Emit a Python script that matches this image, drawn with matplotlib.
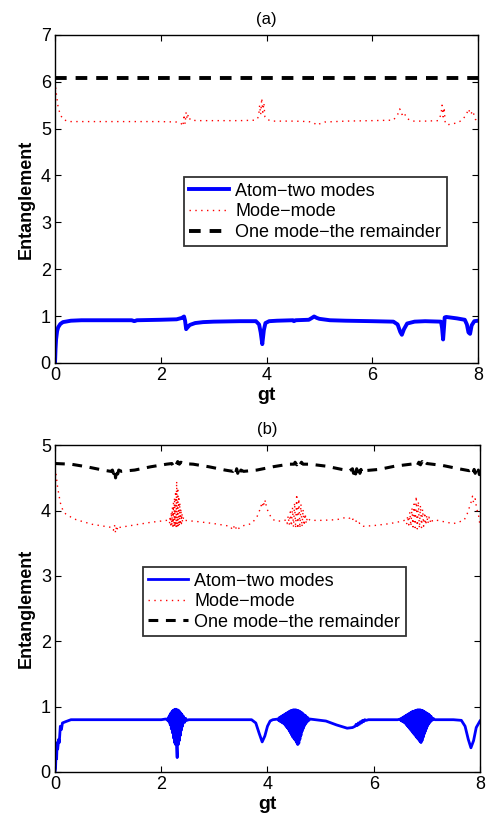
import matplotlib
matplotlib.use("Agg")
import matplotlib.pyplot as plt

plt.rcParams['font.family'] = ['Liberation Sans', 'DejaVu Sans']

# ---------------- Panel (a) data ----------------
a_atom_t = [0.0, 0.01, 0.02, 0.04, 0.06, 0.1, 0.15, 0.2, 0.3, 0.5, 1.0, 1.45, 1.5, 1.55, 2.0, 2.3, 2.4,
            2.44, 2.46, 2.48, 2.5, 2.55, 2.65, 2.8, 3.0, 3.5, 3.8, 3.86, 3.89, 3.92, 3.95, 3.98, 4.05, 4.2,
            4.5, 4.52, 4.55, 4.8, 4.86, 4.9, 4.95, 5.0, 5.2, 5.5, 6.0, 6.4, 6.48, 6.53, 6.56, 6.6, 6.66,
            6.8, 7.0, 7.3, 7.32, 7.34, 7.36, 7.37, 7.4, 7.6, 7.75, 7.79, 7.82, 7.85, 7.88, 7.93, 8.0]
a_atom_y = [0.0, 0.3, 0.5, 0.68, 0.76, 0.83, 0.87, 0.88, 0.9, 0.91, 0.91, 0.91, 0.89, 0.91, 0.92, 0.93, 0.96,
            0.99, 0.9, 0.72, 0.75, 0.81, 0.85, 0.87, 0.88, 0.89, 0.89, 0.82, 0.65, 0.4, 0.7, 0.85, 0.89, 0.9,
            0.91, 0.89, 0.91, 0.92, 0.96, 0.99, 0.96, 0.94, 0.91, 0.9, 0.89, 0.88, 0.82, 0.66, 0.6, 0.72, 0.84,
            0.88, 0.89, 0.88, 0.75, 0.5, 0.8, 0.97, 0.98, 0.95, 0.92, 0.82, 0.65, 0.62, 0.8, 0.89, 0.9]

a_mode_t = [0.0, 0.03, 0.06, 0.1, 0.15, 0.25, 0.5, 1.0, 1.5, 2.0, 2.3, 2.38, 2.42, 2.44, 2.46, 2.48, 2.5,
            2.52, 2.56, 2.7, 3.0, 3.5, 3.8, 3.85, 3.87, 3.89, 3.91, 3.93, 3.95, 3.97, 4.0, 4.1, 4.5, 4.8,
            4.9, 4.95, 5.0, 5.1, 5.5, 6.0, 6.4, 6.48, 6.52, 6.56, 6.6, 6.65, 6.75, 7.0, 7.25, 7.3, 7.32,
            7.34, 7.36, 7.38, 7.42, 7.5, 7.6, 7.7, 7.78, 7.82, 7.86, 7.9, 7.95, 8.0]
a_mode_y = [6.0, 5.7, 5.45, 5.3, 5.2, 5.15, 5.15, 5.15, 5.15, 5.15, 5.14, 5.12, 5.05, 5.3, 5.1, 5.35, 5.2,
            5.3, 5.18, 5.17, 5.17, 5.17, 5.18, 5.25, 5.5, 5.3, 5.65, 5.35, 5.55, 5.25, 5.2, 5.16, 5.16, 5.15,
            5.12, 5.07, 5.1, 5.14, 5.16, 5.17, 5.18, 5.3, 5.42, 5.3, 5.35, 5.22, 5.16, 5.16, 5.17, 5.3, 5.5,
            5.25, 5.45, 5.12, 5.08, 5.1, 5.12, 5.18, 5.3, 5.42, 5.3, 5.38, 5.2, 5.15]

a_rem_t = [0.0, 8.0]
a_rem_y = [6.08, 6.08]

# ---------------- Panel (b) data ----------------
b_atom_t = [0.0, 0.01, 0.02, 0.03, 0.04, 0.05, 0.07, 0.08, 0.1, 0.12, 0.14, 0.2, 0.3, 1.0, 1.5, 2.0, 2.08,
            2.10, 2.12, 2.14, 2.15, 2.16, 2.17, 2.18, 2.19, 2.20, 2.21, 2.22, 2.23, 2.24, 2.25, 2.26, 2.27,
            2.28, 2.29, 2.30, 2.31, 2.32, 2.33, 2.34, 2.35, 2.36, 2.37, 2.38, 2.39, 2.40, 2.42, 2.44, 2.46,
            2.48, 2.52, 3.0, 3.5, 3.7, 3.78, 3.84, 3.9, 3.95, 4.0, 4.05, 4.1,
            4.20, 4.21, 4.22, 4.23, 4.24, 4.25, 4.26, 4.27, 4.28, 4.29, 4.30, 4.31, 4.32, 4.33, 4.34, 4.35,
            4.36, 4.37, 4.38, 4.39, 4.40, 4.41, 4.42, 4.43, 4.44, 4.45, 4.46, 4.47, 4.48, 4.49, 4.50, 4.51,
            4.52, 4.53, 4.54, 4.55, 4.56, 4.57, 4.58, 4.59, 4.60, 4.61, 4.62, 4.63, 4.64, 4.65, 4.66, 4.67,
            4.68, 4.69, 4.70, 4.71, 4.72, 4.73, 4.74, 4.75, 4.76, 4.78, 4.80,
            4.9, 5.1, 5.3, 5.5, 5.6, 5.65, 5.67, 5.69, 5.71, 5.73, 5.75, 5.77, 5.79, 5.81, 5.83, 5.86, 5.9,
            6.2, 6.45,
            6.50, 6.51, 6.52, 6.53, 6.54, 6.55, 6.56, 6.57, 6.58, 6.59, 6.60, 6.61, 6.62, 6.63, 6.64, 6.65,
            6.66, 6.67, 6.68, 6.69, 6.70, 6.71, 6.72, 6.73, 6.74, 6.75, 6.76, 6.77, 6.78, 6.79, 6.80, 6.81,
            6.82, 6.83, 6.84, 6.85, 6.86, 6.87, 6.88, 6.89, 6.90, 6.91, 6.92, 6.93, 6.94, 6.95, 6.96, 6.97,
            6.98, 6.99, 7.00, 7.01, 7.02, 7.03, 7.04, 7.05, 7.06, 7.07, 7.08, 7.10, 7.12, 7.15,
            7.5, 7.65, 7.72, 7.78, 7.83, 7.88, 7.93, 8.0]
b_atom_y = [0.0, 0.05, 0.3, 0.2, 0.45, 0.35, 0.5, 0.45, 0.7, 0.65, 0.75, 0.77, 0.8, 0.8, 0.8, 0.8, 0.81,
            0.81, 0.79, 0.84, 0.76, 0.87, 0.72, 0.90, 0.66, 0.92, 0.60, 0.94, 0.52, 0.95, 0.45, 0.96, 0.42,
            0.96, 0.40, 0.22, 0.95, 0.42, 0.94, 0.48, 0.92, 0.56, 0.90, 0.64, 0.88, 0.70, 0.85, 0.76, 0.82,
            0.79, 0.80, 0.80, 0.80, 0.80, 0.75, 0.6, 0.46, 0.55, 0.7, 0.78, 0.8,
            0.81, 0.79, 0.83, 0.78, 0.84, 0.77, 0.85, 0.76, 0.86, 0.75, 0.87, 0.74, 0.88, 0.72, 0.89, 0.70,
            0.90, 0.68, 0.91, 0.66, 0.92, 0.63, 0.93, 0.60, 0.94, 0.57, 0.94, 0.54, 0.95, 0.52, 0.95, 0.50,
            0.95, 0.48, 0.95, 0.45, 0.94, 0.42, 0.94, 0.44, 0.93, 0.50, 0.92, 0.56, 0.91, 0.62, 0.90, 0.66,
            0.88, 0.70, 0.87, 0.73, 0.86, 0.75, 0.84, 0.77, 0.83, 0.79, 0.81,
            0.8, 0.78, 0.72, 0.67, 0.68, 0.70, 0.73, 0.71, 0.75, 0.73, 0.77, 0.75, 0.79, 0.77, 0.80, 0.79, 0.80,
            0.80, 0.80,
            0.81, 0.79, 0.82, 0.78, 0.83, 0.77, 0.84, 0.76, 0.85, 0.75, 0.86, 0.73, 0.87, 0.71, 0.88, 0.69,
            0.89, 0.67, 0.90, 0.65, 0.91, 0.63, 0.92, 0.61, 0.93, 0.59, 0.93, 0.57, 0.94, 0.55, 0.94, 0.53,
            0.95, 0.51, 0.95, 0.49, 0.95, 0.47, 0.95, 0.45, 0.94, 0.48, 0.94, 0.53, 0.93, 0.58, 0.92, 0.62,
            0.91, 0.66, 0.90, 0.70, 0.89, 0.73, 0.88, 0.75, 0.86, 0.77, 0.85, 0.79, 0.82, 0.80,
            0.80, 0.79, 0.7, 0.5, 0.37, 0.48, 0.68, 0.78]

b_mode_t = [0.0, 0.02, 0.05, 0.1, 0.15, 0.2, 0.3, 0.4, 0.7, 1.0, 1.08, 1.10, 1.12, 1.14, 1.16, 1.18, 1.2,
            1.5, 1.8, 2.1,
            2.15, 2.16, 2.17, 2.18, 2.19, 2.20, 2.21, 2.22, 2.23, 2.24, 2.25, 2.26, 2.27, 2.28, 2.29, 2.30,
            2.31, 2.32, 2.33, 2.34, 2.35, 2.36, 2.37, 2.38, 2.39, 2.40, 2.42, 2.45,
            2.7, 3.0, 3.3, 3.33, 3.36, 3.39, 3.42, 3.45, 3.5, 3.7, 3.8, 3.85, 3.88, 3.9, 3.92, 3.94, 3.96,
            3.98, 4.02, 4.08, 4.15, 4.3,
            4.35, 4.37, 4.39, 4.41, 4.43, 4.45, 4.47, 4.49, 4.51, 4.53, 4.55, 4.57, 4.59, 4.61, 4.63, 4.65,
            4.67, 4.69, 4.71, 4.73, 4.75, 4.8,
            5.0, 5.3, 5.5, 5.55, 5.58, 5.61, 5.64, 5.67, 5.7, 5.73, 5.76, 5.8, 6.0, 6.3, 6.55,
            6.60, 6.62, 6.64, 6.66, 6.68, 6.70, 6.72, 6.74, 6.76, 6.78, 6.80, 6.82, 6.84, 6.86, 6.88, 6.90,
            6.92, 6.94, 6.96, 6.98, 7.00, 7.02, 7.04, 7.06, 7.08, 7.10, 7.13, 7.2,
            7.5, 7.7, 7.76, 7.8, 7.83, 7.86, 7.88, 7.91, 7.94, 7.97, 8.0]
b_mode_y = [4.65, 4.55, 4.35, 4.12, 4.0, 3.95, 3.9, 3.86, 3.79, 3.75, 3.74, 3.70, 3.78, 3.66, 3.77, 3.70, 3.74,
            3.78, 3.82, 3.85,
            3.86, 3.80, 3.92, 3.78, 3.98, 3.77, 4.05, 3.76, 4.12, 3.75, 4.20, 3.75, 4.30, 3.74, 4.45, 3.74,
            4.35, 3.75, 4.22, 3.76, 4.12, 3.78, 4.03, 3.80, 3.96, 3.82, 3.90, 3.85,
            3.83, 3.8, 3.76, 3.72, 3.77, 3.70, 3.76, 3.72, 3.76, 3.8, 3.9, 4.0, 4.08, 4.04, 4.14, 4.08, 4.16,
            4.05, 3.97, 3.88, 3.84, 3.84,
            3.86, 3.80, 3.92, 3.78, 3.98, 3.76, 4.05, 3.75, 4.12, 3.73, 4.25, 3.72, 4.18, 3.73, 4.10, 3.75,
            4.02, 3.77, 3.95, 3.80, 3.90, 3.85,
            3.85, 3.86, 3.9, 3.88, 3.84, 3.87, 3.82, 3.84, 3.79, 3.81, 3.77, 3.76, 3.77, 3.8, 3.84,
            3.86, 3.80, 3.92, 3.78, 3.98, 3.76, 4.04, 3.75, 4.10, 3.74, 4.22, 3.72, 4.14, 3.73, 4.08, 3.74,
            4.02, 3.76, 3.97, 3.78, 3.93, 3.80, 3.90, 3.82, 3.88, 3.84, 3.86, 3.85,
            3.8, 3.85, 3.95, 4.05, 4.12, 4.22, 4.12, 4.18, 4.02, 3.95, 3.78]

b_rem_t = [0.0, 0.3, 0.6, 0.9, 1.05, 1.08, 1.1, 1.12, 1.14, 1.16, 1.18, 1.2, 1.25, 1.5, 1.8, 2.1, 2.2,
           2.22, 2.25, 2.28, 2.31, 2.34, 2.37, 2.4, 2.6, 2.9, 3.2, 3.35, 3.38, 3.4, 3.42, 3.44, 3.46, 3.48,
           3.5, 3.55, 3.8, 4.1, 4.4, 4.5, 4.52, 4.55, 4.58, 4.61, 4.64, 4.67, 4.8, 5.1, 5.4, 5.55, 5.6,
           5.62, 5.64, 5.66, 5.68, 5.7, 5.72, 5.74, 5.76, 5.78, 5.82, 6.1, 6.4, 6.7, 6.8, 6.82, 6.85, 6.88,
           6.91, 6.94, 6.97, 7.0, 7.3, 7.6, 7.8, 7.85, 7.87, 7.89, 7.91, 7.93, 7.95, 7.97, 7.99, 8.0]
b_rem_y = [4.72, 4.71, 4.67, 4.62, 4.60, 4.62, 4.57, 4.63, 4.50, 4.64, 4.56, 4.62, 4.60, 4.62, 4.67, 4.71,
           4.72, 4.69, 4.74, 4.70, 4.75, 4.71, 4.74, 4.72, 4.71, 4.67, 4.62, 4.60, 4.63, 4.57, 4.64, 4.57,
           4.64, 4.58, 4.62, 4.60, 4.62, 4.67, 4.71, 4.71, 4.74, 4.70, 4.75, 4.70, 4.74, 4.71, 4.71, 4.68,
           4.63, 4.61, 4.64, 4.57, 4.64, 4.56, 4.64, 4.55, 4.63, 4.57, 4.63, 4.58, 4.61, 4.63, 4.68, 4.71,
           4.72, 4.69, 4.74, 4.70, 4.75, 4.70, 4.74, 4.72, 4.69, 4.64, 4.61, 4.63, 4.57, 4.63, 4.57, 4.62,
           4.56, 4.62, 4.55, 4.60]

labels = ['Atom\u2212two modes', 'Mode\u2212mode', 'One mode\u2212the remainder']
x_ticks = [0, 2, 4, 6, 8]

fig = plt.figure(figsize=(4.89, 8.21), dpi=100)
ax1 = fig.add_axes([0.1125, 0.558, 0.865, 0.3995])
ax2 = fig.add_axes([0.1125, 0.0597, 0.869, 0.398])


def style(ax, ylim, yticks, title):
    ax.set_xlim(0, 8)
    ax.set_ylim(*ylim)
    ax.set_xticks(x_ticks)
    ax.set_yticks(yticks)
    ax.tick_params(direction='in', top=True, right=True, length=4, width=0.8,
                   labelsize=13, pad=3)
    for s in ax.spines.values():
        s.set_linewidth(1.0)
    ax.set_xlabel('gt', fontsize=14, fontweight='bold', labelpad=2)
    ax.set_ylabel('Entanglement', fontsize=13, fontweight='bold', labelpad=4)
    ax.set_title(title, fontsize=12, pad=8)


l1, = ax1.plot(a_atom_t, a_atom_y, color='#0000ff', lw=2.8, solid_joinstyle='round')
l2, = ax1.plot(a_mode_t, a_mode_y, color='#ff0000', lw=1.0, linestyle=(0, (1, 3.2)))
l3, = ax1.plot(a_rem_t, a_rem_y, color='black', lw=2.8, linestyle=(0, (3.0, 2.3)))
style(ax1, (0, 7), range(0, 8), '(a)')
leg1 = ax1.legend([l1, l2, l3], labels, loc='upper left', bbox_to_anchor=(0.305, 0.566),
                  fontsize=13, frameon=True, fancybox=False, handlelength=2.2,
                  handletextpad=0.35, borderpad=0.3, labelspacing=0.2, borderaxespad=0)
leg1.get_frame().set_edgecolor('black')
leg1.get_frame().set_linewidth(1.3)

m1, = ax2.plot(b_atom_t, b_atom_y, color='#0000ff', lw=2.0)
m2, = ax2.plot(b_mode_t, b_mode_y, color='#ff0000', lw=1.0, linestyle=(0, (1, 3.2)))
m3, = ax2.plot(b_rem_t, b_rem_y, color='black', lw=2.2, linestyle=(0, (3.2, 2.5)))
style(ax2, (0, 5), range(0, 6), '(b)')
leg2 = ax2.legend([m1, m2, m3], labels, loc='upper left', bbox_to_anchor=(0.207, 0.627),
                  fontsize=13, frameon=True, fancybox=False, handlelength=2.2,
                  handletextpad=0.35, borderpad=0.3, labelspacing=0.2, borderaxespad=0)
leg2.get_frame().set_edgecolor('black')
leg2.get_frame().set_linewidth(1.3)

fig.savefig('out.png', dpi=100)
